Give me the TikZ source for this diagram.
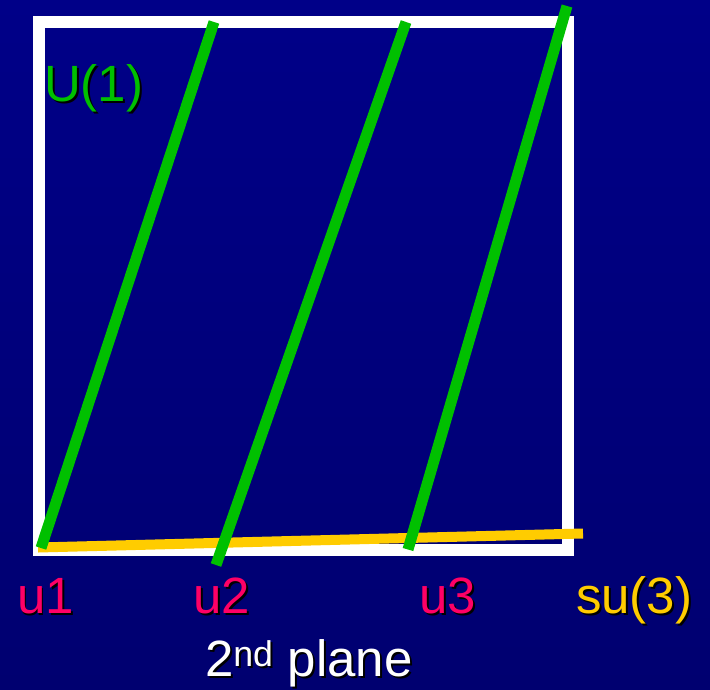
\documentclass[tikz,border=0pt]{standalone}
\usepackage{fontspec}
\setmainfont{Liberation Sans}
\definecolor{bgtop}{HTML}{000088}
\definecolor{bgmid}{HTML}{000099}
\definecolor{bgbot}{HTML}{000070}
\definecolor{lgreen}{HTML}{00C000}
\definecolor{lyellow}{HTML}{FFCC00}
\definecolor{lred}{HTML}{FF0066}
\tikzset{
  lbl/.style={anchor=base west, inner sep=0pt, outer sep=0pt, font=\fontsize{51}{60}\selectfont},
  shadowlbl/.style={lbl, text=black},
  frame/.style={draw=white, line width=12pt, line join=miter},
  uline/.style={draw=lgreen, line width=11pt, line cap=butt},
  suline/.style={draw=lyellow, line width=10pt, line cap=butt},
}
\newcommand\shlabel[4]{%
  \node[shadowlbl] (#1s) at ([shift={(2,2)}]#3) {#4};
  \node[lbl, text=#2] (#1) at (#3) {#4};}
\begin{document}
\begin{tikzpicture}[x=1pt,y=-1pt]
\useasboundingbox (0,0) rectangle (710,689);
\shade[top color=bgtop, middle color=bgmid, bottom color=bgbot] (0,0) rectangle (710,689);
% frame
\coordinate (ftl) at (39,22);
\coordinate (fbr) at (567.5,550);
\draw[frame] (ftl) rectangle (fbr);
% su(3) line
\coordinate (ya) at (38,547.5);
\coordinate (yb) at (583,533.5);
\draw[suline] (ya) -- (yb);
% U(1) lines
\coordinate (g1b) at (41,548);
\coordinate (g1t) at (214,22);
\coordinate (g2b) at (216,565);
\coordinate (g2t) at (406,22);
\coordinate (g3b) at (408,549.5);
\coordinate (g3t) at (567,6);
\draw[uline] (g1b) -- (g1t);
\draw[uline] (g2b) -- (g2t);
\draw[uline] (g3b) -- (g3t);
% labels
\shlabel{U1}{lgreen}{44,101}{U(1)}
\shlabel{u1}{lred}{17,613}{u1}
\shlabel{u2}{lred}{193,613}{u2}
\shlabel{u3}{lred}{419,613}{u3}
\shlabel{su3}{lyellow}{576,613}{su(3)}
\shlabel{plane}{white}{205,676}{2\textsuperscript{nd} plane}
\end{tikzpicture}
\end{document}
